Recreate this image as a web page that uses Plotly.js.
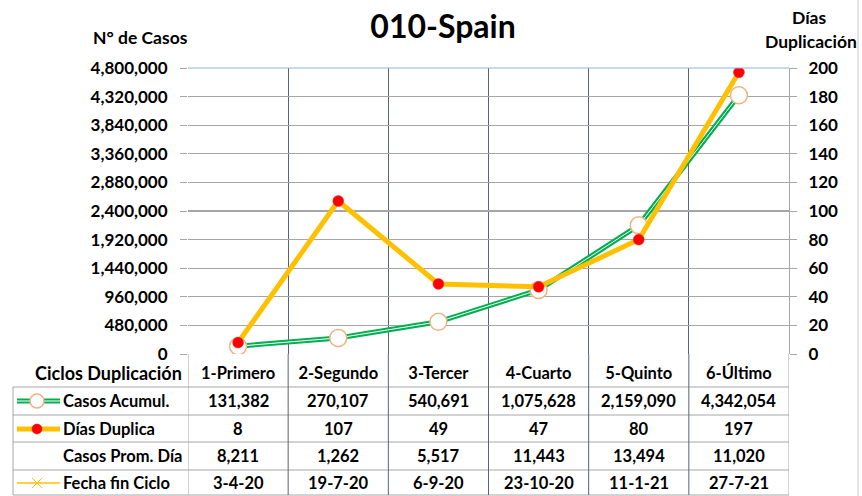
<!DOCTYPE html>
<html>
<head>
<meta charset="utf-8">
<script src="https://cdn.plot.ly/plotly-3.0.1.min.js"></script>
<style>html,body{margin:0;padding:0;background:#fff;}#chart{width:862px;height:496px;}</style>
</head>
<body>
<div id="chart"></div>
<script>
// ---- data ----
var ciclos = ["1-Primero", "2-Segundo", "3-Tercer", "4-Cuarto", "5-Quinto", "6-Último"];
var casosAcumul = [131382, 270107, 540691, 1075628, 2159090, 4342054];
var diasDuplica = [8, 107, 49, 47, 80, 197];
var casosPromDia = [8211, 1262, 5517, 11443, 13494, 11020];
var fechaFinCiclo = ["3-4-20", "19-7-20", "6-9-20", "23-10-20", "11-1-21", "27-7-21"];
var rowLabels = ["Casos Acumul.", "Días Duplica", "Casos Prom. Día", "Fecha fin Ciclo"];
var leftTicks = [0, 480000, 960000, 1440000, 1920000, 2400000, 2880000, 3360000, 3840000, 4320000, 4800000];
var rightTicks = [0, 20, 40, 60, 80, 100, 120, 140, 160, 180, 200];

// ---- layout helpers (pixel -> paper) ----
var W = 862, H = 496, L = 188, R = 73, T = 68, B = 142;
var PW = W - L - R, PH = H - T - B;
function px(x) { return (x - L) / PW; }
function py(y) { return (H - B - y) / PH; }

var FONT = "Lato, 'Open Sans', sans-serif";
var fmt = function (v) { return v.toLocaleString('en-US'); };

var traces = [
  {x: ciclos, y: casosAcumul, type: 'scatter', mode: 'lines', yaxis: 'y',
   line: {color: '#00B050', width: 5}, hoverinfo: 'skip', showlegend: false},
  {x: ciclos, y: casosAcumul, type: 'scatter', mode: 'lines+markers', yaxis: 'y',
   line: {color: '#FFFFFF', width: 1},
   marker: {size: 17, color: '#FFFFFF', line: {color: '#F4B183', width: 1.5}},
   hoverinfo: 'skip', showlegend: false},
  {x: ciclos, y: diasDuplica, type: 'scatter', mode: 'lines+markers', yaxis: 'y2',
   line: {color: '#FFC000', width: 5},
   marker: {size: 11, color: '#FF0000', line: {color: '#E04040', width: 0.5}},
   hoverinfo: 'skip', showlegend: false}
];

var shapes = [], annotations = [];
var gridCol = '#5A6375', hGrid = '#A6A6A6';

// table horizontal lines
[387, 415, 442, 470, 495].forEach(function (y) {
  shapes.push({type: 'line', xref: 'paper', yref: 'paper', x0: px(13), x1: px(789), y0: py(y), y1: py(y),
    line: {color: '#A6A6A6', width: 1}});
});
// table vertical lines (column boundaries through header + rows)
for (var i = 0; i <= ciclos.length; i++) {
  shapes.push({type: 'line', xref: 'x', yref: 'paper', x0: i - 0.5, x1: i - 0.5, y0: py(354), y1: py(495),
    line: {color: (i === 0 || i === ciclos.length) ? '#A6A6A6' : gridCol, width: 1}});
}
shapes.push({type: 'line', xref: 'paper', yref: 'paper', x0: px(13), x1: px(13), y0: py(387), y1: py(495),
  line: {color: '#A6A6A6', width: 1}});
// top border of plot area (blue)
shapes.push({type: 'line', xref: 'paper', yref: 'paper', x0: 0, x1: 1, y0: 1, y1: 1,
  line: {color: '#8EB4E3', width: 1.2}});
// chart frame right edge
shapes.push({type: 'line', xref: 'paper', yref: 'paper', x0: px(858), x1: px(858), y0: py(0), y1: py(496),
  line: {color: '#C8C8C8', width: 1}});

// legend keys in table
var r1 = 401, r2 = 429, r3 = 456, r4 = 483;
shapes.push({type: 'line', xref: 'paper', yref: 'paper', x0: px(17), x1: px(60), y0: py(r1), y1: py(r1), line: {color: '#00B050', width: 5}});
shapes.push({type: 'line', xref: 'paper', yref: 'paper', x0: px(17), x1: px(60), y0: py(r1), y1: py(r1), line: {color: '#FFFFFF', width: 1}});
shapes.push({type: 'circle', xref: 'paper', yref: 'paper', x0: px(30), x1: px(44), y0: py(r1 - 7), y1: py(r1 + 7),
  fillcolor: '#FFFFFF', line: {color: '#F4B183', width: 1.5}});
shapes.push({type: 'line', xref: 'paper', yref: 'paper', x0: px(17), x1: px(60), y0: py(r2), y1: py(r2), line: {color: '#FFC000', width: 5}});
shapes.push({type: 'circle', xref: 'paper', yref: 'paper', x0: px(32), x1: px(42), y0: py(r2 - 5), y1: py(r2 + 5),
  fillcolor: '#FF0000', line: {color: '#FF0000', width: 0.5}});
shapes.push({type: 'line', xref: 'paper', yref: 'paper', x0: px(17), x1: px(60), y0: py(r4), y1: py(r4), line: {color: '#FFC000', width: 1.5}});
shapes.push({type: 'line', xref: 'paper', yref: 'paper', x0: px(32), x1: px(42), y0: py(r4 - 5), y1: py(r4 + 5), line: {color: '#FFC000', width: 1}});
shapes.push({type: 'line', xref: 'paper', yref: 'paper', x0: px(32), x1: px(42), y0: py(r4 + 5), y1: py(r4 - 5), line: {color: '#FFC000', width: 1}});

// table texts
var tFont = {family: FONT, size: 16.5, color: '#000000'};
var rowsY = [r1, r2, r3, r4];
var rowVals = [casosAcumul.map(fmt), diasDuplica.map(String), casosPromDia.map(fmt), fechaFinCiclo];
rowLabels.forEach(function (lab, k) {
  annotations.push({xref: 'paper', yref: 'paper', x: px(61), y: py(rowsY[k]), text: '<b>' + lab + '</b>',
    showarrow: false, xanchor: 'left', yanchor: 'middle', font: tFont});
  rowVals[k].forEach(function (v, i) {
    annotations.push({xref: 'x', yref: 'paper', x: ciclos[i], y: py(rowsY[k]), text: '<b>' + v + '</b>',
      showarrow: false, xanchor: 'center', yanchor: 'middle', font: tFont});
  });
});
annotations.push({xref: 'paper', yref: 'paper', x: px(184), y: py(373), text: '<b>Ciclos Duplicación</b>',
  showarrow: false, xanchor: 'right', yanchor: 'middle', font: {family: FONT, size: 18, color: '#000'}});
// axis titles
annotations.push({xref: 'paper', yref: 'paper', x: px(140), y: py(37), text: '<b>N° de Casos</b>',
  showarrow: false, xanchor: 'center', yanchor: 'middle', font: {family: FONT, size: 17.5, color: '#000'}});
annotations.push({xref: 'paper', yref: 'paper', x: px(809), y: py(17), text: '<b>Días</b>',
  showarrow: false, xanchor: 'center', yanchor: 'middle', font: {family: FONT, size: 17.5, color: '#000'}});
annotations.push({xref: 'paper', yref: 'paper', x: px(859), y: py(41), text: '<b>Duplicación</b>',
  showarrow: false, xanchor: 'right', yanchor: 'middle', font: {family: FONT, size: 17.5, color: '#000'}});

var layout = {
  width: W, height: H,
  margin: {l: L, r: R, t: T, b: B, pad: 0},
  paper_bgcolor: '#FFFFFF', plot_bgcolor: '#FFFFFF',
  showlegend: false,
  title: {text: '<b>010-Spain</b>', x: 0.514, xanchor: 'center', y: 0.945, yanchor: 'middle',
    font: {family: FONT, size: 32, color: '#000'}},
  xaxis: {type: 'category', tickson: 'boundaries', showgrid: true, gridcolor: gridCol, gridwidth: 1,
    ticks: '', ticklabelstandoff: 7, range: [-0.5, 5.5], zeroline: false, showline: false,
    tickfont: {family: FONT, size: 16.5, color: '#000', weight: 'bold'}},
  yaxis: {range: [0, 4800000], tickvals: leftTicks, ticktext: leftTicks.map(fmt), showgrid: true,
    gridcolor: hGrid, gridwidth: 1.3, zeroline: false, ticks: 'outside', ticklen: 7, tickcolor: '#A6A6A6',
    showline: false, ticklabelstandoff: 9,
    tickfont: {family: FONT, size: 17, color: '#000', weight: 'bold'}},
  yaxis2: {range: [0, 200], tickvals: rightTicks, overlaying: 'y', side: 'right', showgrid: false,
    zeroline: false, ticks: 'outside', ticklen: 7, tickcolor: '#A6A6A6', showline: true, linecolor: '#A6A6A6',
    ticklabelstandoff: 8,
    tickfont: {family: FONT, size: 17, color: '#000', weight: 'bold'}},
  shapes: shapes,
  annotations: annotations
};

Plotly.newPlot('chart', traces, layout, {displayModeBar: false, staticPlot: true});
</script>
</body>
</html>
